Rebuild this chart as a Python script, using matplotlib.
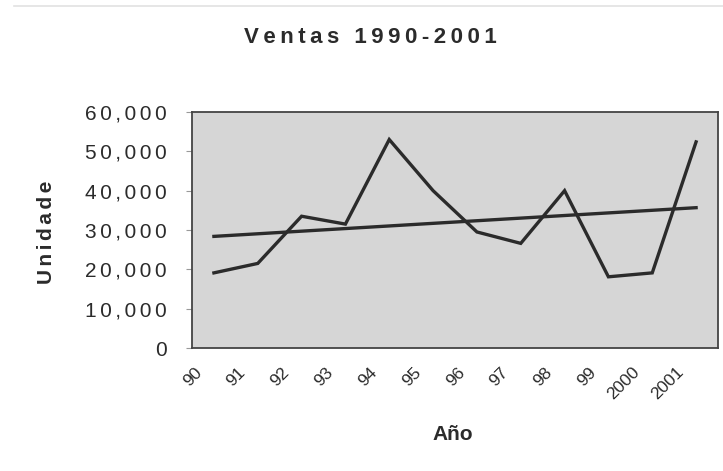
import numpy as np
import matplotlib
matplotlib.use("Agg")
import matplotlib.pyplot as plt
from matplotlib.lines import Line2D
from matplotlib.transforms import ScaledTranslation

plt.rcParams['font.family'] = ['Liberation Sans', 'DejaVu Sans']

# data
years = ["90", "91", "92", "93", "94", "95", "96", "97", "98", "99", "2000", "2001"]
ventas = [19100, 21500, 33500, 31500, 53000, 40000, 29500, 26600, 40000, 18100, 19100, 52400]
y_ticks = [0, 10000, 20000, 30000, 40000, 50000, 60000]

TITLE = "Ventas 1990-2001"
YLABEL = "Unidade"
XLABEL = "Año"

INK = "#2b2b2b"


def spaced(s, sep="\u2009"):
    # the scan shows wide letter spacing, fake it with small spaces
    return sep.join(s)


fig = plt.figure(figsize=(7.23, 4.71), dpi=100)
ax = fig.add_axes([192 / 723, 1 - 348 / 471, 526 / 723, 236 / 471])
ax.set_facecolor("#d6d6d6")

x = np.arange(len(years))
ax.plot(x, ventas, color=INK, lw=2.4, solid_joinstyle="miter")

# linear trendline, as Excel adds it
slope, icpt = np.polyfit(x, ventas, 1)
ax.plot(x, slope * x + icpt, color=INK, lw=2.4)

ax.set_xlim(-0.5, len(years) - 0.5)
ax.set_ylim(0, 60000)
ax.set_yticks(y_ticks)
ax.set_yticklabels([spaced(f"{v:,}", "\u200a\u200a") for v in y_ticks],
                   fontsize=15, color=INK)
ax.set_xticks(x)
ax.set_xticklabels(years, rotation=45, ha="right", rotation_mode="anchor",
                   fontsize=12.5, color=INK)
ax.tick_params(axis="x", length=0, pad=12)
ax.tick_params(axis="y", length=4, color="#999999", pad=14)

# Excel puts the rotated labels at the left edge of each category
shift = ScaledTranslation(-20 / 100, 0, fig.dpi_scale_trans)
for lab in ax.get_xticklabels():
    lab.set_transform(lab.get_transform() + shift)

for sp in ax.spines.values():
    sp.set_color("#444444")
    sp.set_linewidth(1.3)

fig.text(370 / 723, 1 - 43 / 471, spaced(TITLE), ha="center", va="baseline",
         fontsize=16, fontweight="bold", color=INK)
fig.text(46 / 723, 1 - 232 / 471, spaced(YLABEL, "\u200a\u200a"), ha="center",
         va="center", rotation=90, fontsize=15, fontweight="bold", color=INK)
fig.text(453 / 723, 1 - 440 / 471, XLABEL, ha="center", va="baseline",
         fontsize=15, fontweight="bold", color=INK)

# faint scanner edge at the top
fig.add_artist(Line2D([0.02, 1.0], [1 - 6 / 471, 1 - 6 / 471],
                      color="#e2e2e2", lw=1.2, transform=fig.transFigure))

fig.savefig("out.png", dpi=100)
